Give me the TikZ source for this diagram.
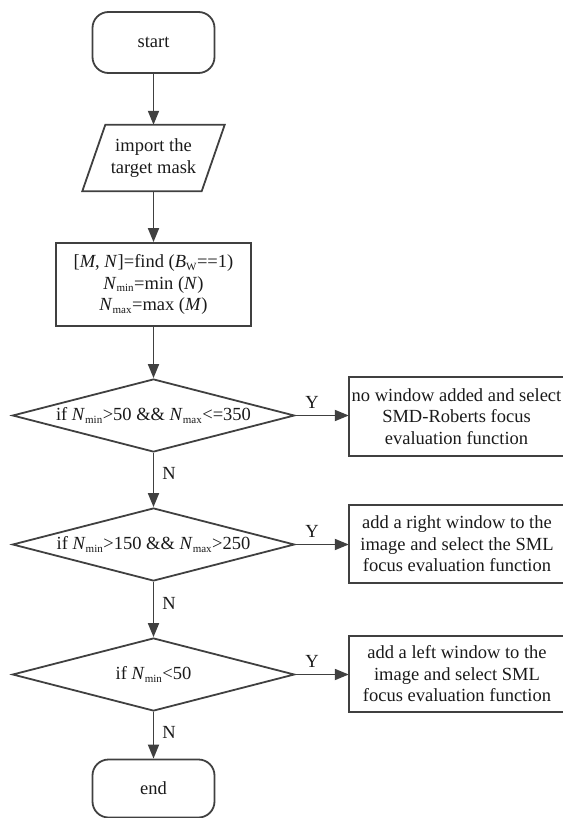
\documentclass[tikz,border=0pt]{standalone}
\usepackage{fontspec}
\setmainfont{Liberation Serif}
\usetikzlibrary{arrows.meta,shapes.geometric}
\definecolor{linec}{HTML}{404040}
\definecolor{textc}{HTML}{1A1A1A}
\newcommand\lsub[1]{\textsubscript{\fontsize{11}{11}\selectfont #1}}
\begin{document}
\begin{tikzpicture}[x=1pt,y=-1pt,
  every node/.style={text=textc, font=\fontsize{18.5}{21.5}\selectfont},
  line/.style={draw=linec, line width=1.8pt},
  arr/.style={line, -{Triangle[length=14pt,width=11pt]}},
  term/.style={line, rounded corners=16pt, minimum width=122pt, minimum height=61pt, inner sep=0pt},
  io/.style={minimum width=119pt, minimum height=66pt, inner sep=0pt, align=center},
  proc/.style={line, minimum width=195pt, minimum height=83pt, inner sep=2pt, align=center},
  dec/.style={line, shape=diamond, aspect=3.9, inner sep=0pt, minimum width=282pt, minimum height=73pt},
  res/.style={minimum width=216pt, inner sep=1pt, align=center},
  ylab/.style={above, inner sep=6pt},
  nlab/.style={right, inner sep=8pt}
]
\useasboundingbox (0,0) rectangle (562,818);

\node[term] (start) at (153.5,42.5) {start};
\node[io] (imp) at (153.5,158) {import the\\target mask};
\draw[line] ([xshift=11.5pt]imp.north west) -- ([xshift=11.5pt]imp.north east)
  -- ([xshift=-11.5pt]imp.south east) -- ([xshift=-11.5pt]imp.south west) -- cycle;
\node[proc] (calc) at (153.5,284.5) {[\textit{M}, \textit{N}]=find (\textit{B}\lsub{W}==1)\\
  \textit{N}\lsub{min}=min (\textit{N})\\
  \textit{N}\lsub{max}=max (\textit{M})};
\node[dec] (d1) at (153.5,415.5) {if \textit{N}\lsub{min}>50 \&\& \textit{N}\lsub{max}<=350};
\node[dec] (d2) at (153.5,544.5) {if \textit{N}\lsub{min}>150 \&\& \textit{N}\lsub{max}>250};
\node[dec] (d3) at (153.5,674.5) {if \textit{N}\lsub{min}<50};
\node[term, minimum height=58pt] (end) at (153.5,788.5) {end};

\node[res, minimum height=79pt] (b1) at (456.5,416.5) {no window added and select\\SMD-Roberts focus\\evaluation function};
\node[res, minimum height=78pt] (b2) at (457,544) {add a right window to the\\image and select the SML\\focus evaluation function};
\node[res, minimum height=76pt] (b3) at (457,674) {add a left window to the\\image and select SML\\focus evaluation function};
\draw[line] (b1.north west -| b2.west) rectangle ([xshift=14pt]b1.south east);
\draw[line] (b2.north west) rectangle ([xshift=14pt]b2.south east);
\draw[line] (b3.north west) rectangle ([xshift=14pt]b3.south east);

\draw[arr] (start) -- (imp);
\draw[arr] (imp) -- (calc);
\draw[arr] (calc) -- (d1);
\draw[arr] (d1) -- node[nlab, pos=0.38]{N} (d2);
\draw[arr] (d2) -- node[nlab, pos=0.39]{N} (d3);
\draw[arr] (d3) -- node[nlab, pos=0.45]{N} (end);
\draw[arr] (d1.east) -- node[ylab, pos=0.31]{Y} (d1.east -| b2.west);
\draw[arr] (d2.east) -- node[ylab, pos=0.31]{Y} (d2.east -| b2.west);
\draw[arr] (d3.east) -- node[ylab, pos=0.31]{Y} (d3.east -| b3.west);
\end{tikzpicture}
\end{document}
